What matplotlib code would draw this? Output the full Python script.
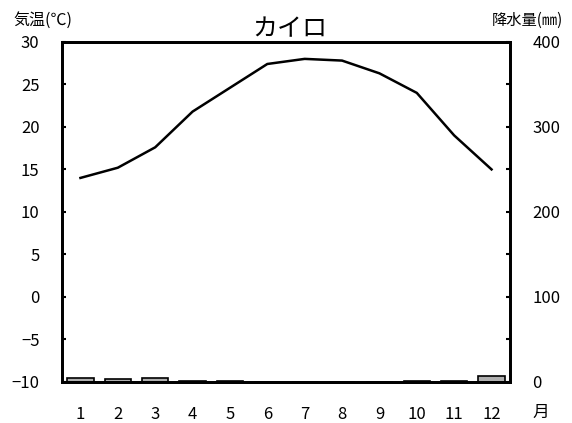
import numpy as np
import matplotlib.pyplot as plt

plt.rcParams['font.family'] = ['Noto Sans CJK JP', 'DejaVu Sans']

months = [1, 2, 3, 4, 5, 6, 7, 8, 9, 10, 11, 12]
temp = [14.0, 15.2, 17.6, 21.8, 24.6, 27.4, 28.0, 27.8, 26.3, 24.0, 19.0, 15.0]
precip = [5.0, 3.5, 4.5, 1.2, 1.0, 0.1, 0.0, 0.0, 0.0, 0.8, 1.2, 6.5]
temp_ticks = [-10, -5, 0, 5, 10, 15, 20, 25, 30]
temp_labels = ['\u221210', '\u22125', '0', '5', '10', '15', '20', '25', '30']
precip_ticks = [0, 100, 200, 300, 400]

fig = plt.figure(figsize=(5.72, 4.23), dpi=100)
ax = fig.add_axes([0.108, 0.097, 0.784, 0.804])
ax2 = ax.twinx()

ax2.bar(months, precip, width=0.7, color='#b0b0b0', edgecolor='black', linewidth=1.2, zorder=2)
ax2.set_ylim(0, 400)
ax2.set_yticks(np.arange(0, 401, 50))
ax2.set_yticklabels([str(v) if v in precip_ticks else '' for v in range(0, 401, 50)])

ax.plot(months, temp, color='black', linewidth=1.8, zorder=3)
ax.set_zorder(ax2.get_zorder() + 1)
ax.patch.set_visible(False)
ax.set_ylim(-10, 30)
ax.set_xlim(0.5, 12.5)
ax.set_yticks(temp_ticks)
ax.set_yticklabels(temp_labels)
ax.set_xticks(months)

for a in (ax, ax2):
    for s in a.spines.values():
        s.set_linewidth(2)
    a.tick_params(direction='in', length=3, width=1.5, labelsize=12, pad=16)
ax.tick_params(axis='x', length=0, pad=17)

fig.text(0.945, 0.025, '月', fontsize=12, ha='center', va='center')
fig.text(0.075, 0.952, '気温(℃)', fontsize=11.5, ha='center', va='center')
fig.text(0.985, 0.952, '降水量(㎜)', fontsize=11, ha='right', va='center')
fig.text(0.507, 0.93, 'カイロ', fontsize=18, ha='center', va='center')

plt.savefig('out.png', dpi=100)
